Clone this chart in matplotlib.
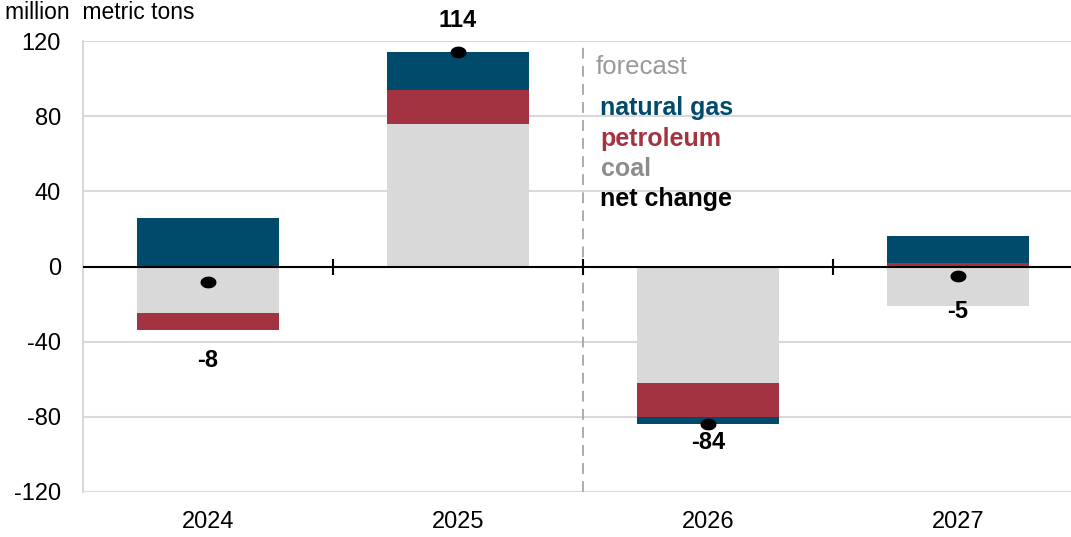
import matplotlib
matplotlib.use("Agg")
import matplotlib.pyplot as plt
import numpy as np
from matplotlib.path import Path

plt.rcParams['font.family'] = ['Liberation Sans', 'DejaVu Sans']

years = ["2024", "2025", "2026", "2027"]
coal = [-25, 76, -62, -21]
petroleum = [-9, 18, -18, 2]
natural_gas = [26, 20, -4, 14]
net_change = [-8, 114, -84, -5]
net_labels = ["-8", "114", "-84", "-5"]
yticks = [-120, -80, -40, 0, 40, 80, 120]

C_GAS = "#004B6B"
C_PET = "#A33340"
C_COAL = "#D9D9D9"

fig = plt.figure(figsize=(10.71, 5.37), dpi=100)
ax = fig.add_axes([83/1071, 1-492/537, 1000/1071, 451/537])

x = np.arange(len(years))
w = 0.57
pos_base = np.zeros(len(years))
neg_base = np.zeros(len(years))
for vals, col in [(coal, C_COAL), (petroleum, C_PET), (natural_gas, C_GAS)]:
    v = np.array(vals, dtype=float)
    bottoms = np.where(v >= 0, pos_base, neg_base)
    ax.bar(x, v, w, bottom=bottoms, color=col, zorder=2, linewidth=0)
    pos_base = pos_base + np.where(v >= 0, v, 0)
    neg_base = neg_base + np.where(v < 0, v, 0)

# net change markers (flattened ellipse)
t = np.linspace(0, 2*np.pi, 40)
ell = Path(np.column_stack([1.4*np.cos(t), np.sin(t)]))
ax.plot(x, net_change, linestyle='none', marker=ell, markersize=10.5,
        color='black', zorder=4)

# net labels
label_offsets = [-79, 32, -18, -36]  # pixels relative to marker
for xi, val, lab, off in zip(x, net_change, net_labels, label_offsets):
    ax.annotate(lab, (xi, val), xytext=(0, off*0.72),
                textcoords='offset points', ha='center', va='center',
                fontsize=17, fontweight='bold', color='black', zorder=5)

ax.set_xlim(-0.5, 3.5)
ax.set_ylim(-120, 120)
ax.set_yticks(yticks)
ax.set_yticklabels([str(v) for v in yticks], fontsize=17)
for g in yticks:
    if g != 0:
        ax.axhline(g, color="#D9D9D9", linewidth=1.5, zorder=1)
ax.axhline(0, color="black", linewidth=1.5, zorder=3)
ax.plot(x[:-1] + 0.5, [0]*3, linestyle='none', marker='|', markersize=12,
        markeredgewidth=1.5, color='black', zorder=3)
ax.axvline(1.5, color="#A6A6A6", linestyle=(0, (6, 4)), linewidth=1.3, zorder=1)

ax.set_xticks(x)
ax.set_xticklabels(years, fontsize=17)
ax.tick_params(axis='both', length=0)
ax.tick_params(axis='x', pad=14)
ax.tick_params(axis='y', pad=16)
for s in ['top', 'right', 'bottom']:
    ax.spines[s].set_visible(False)
ax.spines['left'].set_color("#D9D9D9")
ax.spines['left'].set_linewidth(1.5)

fig.text(5/1071, 1-1/537, "million  metric tons", fontsize=16.5, ha='left', va='top')

ax.text(1.55, 106, "forecast", fontsize=18.5, color="#999999", ha='left', va='center')
legend_items = [("natural gas", C_GAS, 84.5), ("petroleum", C_PET, 68),
                ("coal", "#8C8C8C", 52), ("net change", "black", 36)]
for txt, col, yy in legend_items:
    ax.text(1.57, yy, txt, fontsize=18, fontweight='bold', color=col,
            ha='left', va='center')

fig.savefig("out.png", dpi=100)
